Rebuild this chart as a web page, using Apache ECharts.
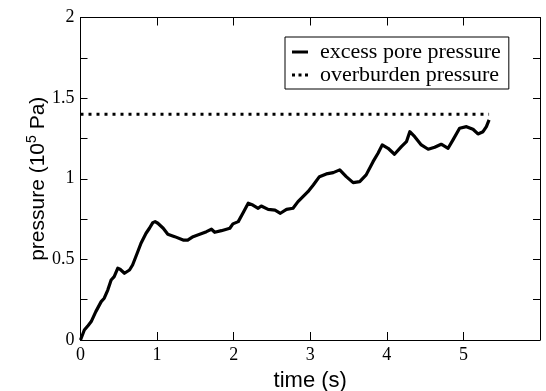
<!DOCTYPE html>
<html>
<head>
<meta charset="utf-8">
<script src="https://cdn.jsdelivr.net/npm/echarts@6/dist/echarts.min.js"></script>
<style>
  html, body { margin: 0; padding: 0; background: #fff; }
  #chart { width: 546px; height: 391px; }
</style>
</head>
<body>
<div id="chart"></div>
<script>
// Excess pore pressure history (time in s, pressure in 10^5 Pa)
const time = [
  0, 0.05, 0.10, 0.14, 0.20, 0.27, 0.31, 0.356, 0.40, 0.44, 0.487, 0.517, 0.574,
  0.64, 0.68, 0.74, 0.79, 0.856, 0.90, 0.944, 0.974, 1.01, 1.08, 1.14, 1.23, 1.34,
  1.40, 1.47, 1.557, 1.645, 1.71, 1.753, 1.84, 1.95, 1.99, 2.06, 2.12, 2.19, 2.25,
  2.32, 2.36, 2.45, 2.54, 2.61, 2.69, 2.775, 2.84, 2.905, 2.97, 3.04, 3.12, 3.21,
  3.30, 3.385, 3.47, 3.56, 3.646, 3.73, 3.82, 3.885, 3.94, 4.016, 4.10, 4.19, 4.256,
  4.30, 4.364, 4.45, 4.54, 4.625, 4.71, 4.80, 4.864, 4.95, 5.04, 5.125, 5.19, 5.256,
  5.30, 5.335
];
const pressure = [
  0, 0.062, 0.09, 0.114, 0.176, 0.238, 0.259, 0.31, 0.372, 0.393, 0.445, 0.439, 0.414,
  0.434, 0.465, 0.538, 0.60, 0.662, 0.693, 0.728, 0.734, 0.724, 0.693, 0.656, 0.641, 0.62,
  0.62, 0.641, 0.656, 0.672, 0.687, 0.668, 0.678, 0.693, 0.72, 0.734, 0.786, 0.848, 0.837,
  0.817, 0.831, 0.81, 0.806, 0.786, 0.81, 0.817, 0.858, 0.889, 0.92, 0.961, 1.013, 1.03,
  1.038, 1.055, 1.013, 0.976, 0.982, 1.024, 1.106, 1.158, 1.21, 1.189, 1.152, 1.199, 1.23,
  1.292, 1.261, 1.21, 1.183, 1.195, 1.214, 1.189, 1.241, 1.313, 1.323, 1.307, 1.278, 1.292,
  1.323, 1.365
];

// Overburden pressure reference level
const overburdenTime = [0, 5.335];
const overburdenLevel = [1.4, 1.4];

const seriesNames = ['excess pore pressure', 'overburden pressure'];
const xTicks = ['0', '1', '2', '3', '4', '5'];
const yTicks = ['0', '0.5', '1', '1.5', '2'];

const serif = '"Liberation Serif", "Times New Roman", serif';
const sans = '"Liberation Sans", Arial, sans-serif';

// Legend glyphs: a short solid bar and three square dots
const solidIcon = 'path://M0,0h16v3h-16z';
const dottedIcon = 'path://M0,0h3v3h-3z M6.5,0h3v3h-3z M13,0h3v3h-3z';

const chart = echarts.init(document.getElementById('chart'), null, { renderer: 'canvas' });

const axisLine = { show: true, onZero: false, lineStyle: { color: '#000', width: 1 } };
const tickStyle = { color: '#000', width: 1 };

chart.setOption({
  backgroundColor: '#fff',
  animation: false,
  grid: { left: 80.5, right: 6, top: 17.5, bottom: 51, containLabel: false, outerBoundsMode: 'none' },
  legend: {
    orient: 'vertical',
    left: 285,
    top: 37,
    borderColor: '#000',
    borderWidth: 1,
    padding: [4, 8, 3, 7],
    itemGap: 1,
    itemWidth: 16,
    itemHeight: 3,
    textStyle: { fontFamily: serif, fontSize: 22, color: '#000', padding: [0, 0, 0, 7] },
    data: [
      { name: seriesNames[0], icon: solidIcon, itemStyle: { color: '#000' } },
      { name: seriesNames[1], icon: dottedIcon, itemStyle: { color: '#000' } }
    ]
  },
  xAxis: [
    {
      type: 'value', min: 0, max: 6, interval: 1,
      axisLine: axisLine,
      axisTick: { show: true, inside: true, length: 8, lineStyle: tickStyle },
      splitLine: { show: false },
      axisLabel: {
        fontFamily: serif, fontSize: 18, color: '#000', margin: 6,
        formatter: v => (v < xTicks.length ? xTicks[v] : '')
      },
      name: 'time (s)',
      nameLocation: 'middle',
      nameGap: 30,
      nameMoveOverlap: false,
      nameTextStyle: { fontFamily: sans, fontSize: 22, color: '#000' }
    },
    {
      type: 'value', min: 0, max: 6, interval: 1, position: 'top',
      axisLine: axisLine,
      axisTick: { show: true, inside: true, length: 8, lineStyle: tickStyle },
      axisLabel: { show: false },
      splitLine: { show: false }
    }
  ],
  yAxis: [
    {
      type: 'value', min: 0, max: 2, interval: 0.5,
      axisLine: axisLine,
      axisTick: { show: true, inside: true, length: 7, lineStyle: tickStyle },
      minorTick: { show: true, splitNumber: 2, length: 7, lineStyle: tickStyle },
      splitLine: { show: false },
      axisLabel: {
        fontFamily: serif, fontSize: 18, color: '#000', margin: 6,
        formatter: v => yTicks[Math.round(v / 0.5)]
      },
      name: 'pressure (10{sup|5} Pa)',
      nameLocation: 'middle',
      nameGap: 29,
      nameMoveOverlap: false,
      nameRotate: 90,
      nameTextStyle: {
        fontFamily: sans, fontSize: 21, color: '#000',
        rich: { sup: { fontFamily: sans, fontSize: 14, color: '#000', verticalAlign: 'top', padding: [0, 0, 12, 0] } }
      }
    },
    {
      type: 'value', min: 0, max: 2, interval: 0.5, position: 'right',
      axisLine: axisLine,
      axisTick: { show: true, inside: true, length: 7, lineStyle: tickStyle },
      minorTick: { show: true, splitNumber: 2, length: 7, lineStyle: tickStyle },
      axisLabel: { show: false },
      splitLine: { show: false }
    }
  ],
  series: [
    {
      name: seriesNames[0],
      type: 'line',
      data: time.map((t, i) => [t, pressure[i]]),
      symbol: 'none',
      lineStyle: { color: '#000', width: 3.2, join: 'round' },
      itemStyle: { color: '#000' }
    },
    {
      name: seriesNames[1],
      type: 'line',
      data: overburdenTime.map((t, i) => [t, overburdenLevel[i]]),
      symbol: 'none',
      lineStyle: { color: '#000', width: 3, type: [3, 5], cap: 'butt' },
      itemStyle: { color: '#000' }
    }
  ]
});
</script>
</body>
</html>
